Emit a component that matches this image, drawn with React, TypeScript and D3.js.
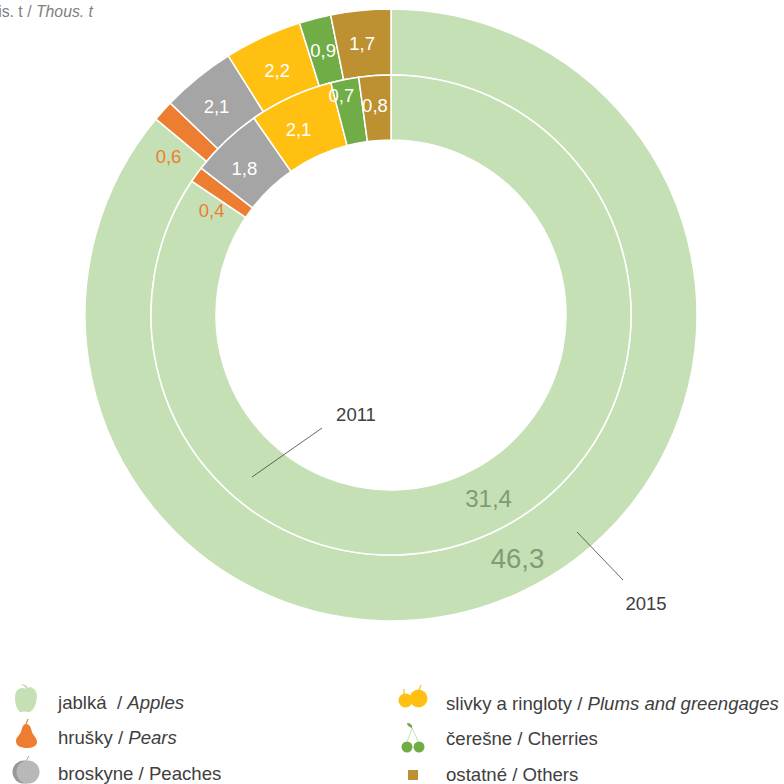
import React, { useEffect, useRef } from 'react';
import * as d3 from 'd3';

const categories = ['jablká', 'hrušky', 'broskyne', 'slivky', 'čerešne', 'ostatné'];
const values2015 = [46.3, 0.6, 2.1, 2.2, 0.9, 1.7];
const values2011 = [31.4, 0.4, 1.8, 2.1, 0.7, 0.8];
const colors = ['#C5E0B4', '#ED7D31', '#A5A5A5', '#FFC012', '#70AD47', '#BD9131'];
const labelColors = ['#7F9C72', '#ED7D31', '#fff', '#fff', '#fff', '#fff'];

const FONT = '"Liberation Sans", Arial, sans-serif';
const DEG = Math.PI / 180;

const App = () => {
  const svgRef = useRef<SVGSVGElement>(null);

  useEffect(() => {
    const svg = d3.select(svgRef.current);
    svg.selectAll('*').remove();

    const cx = 391;
    const cy = 315;

    const pie = d3.pie<number>().sort(null).value(d => d);

    // nudge: [label index, degrees along the ring, px outward]
    const drawRing = (
      values: number[], inner: number, outer: number,
      bigFont: number, smallFont: number, nudges: number[][],
    ) => {
      const arc = d3.arc<d3.PieArcDatum<number>>().innerRadius(inner).outerRadius(outer);
      const g = svg.append('g').attr('transform', `translate(${cx},${cy})`);
      const arcs = pie(values);
      arcs.forEach((a, i) => {
        g.append('path')
          .attr('d', arc(a))
          .attr('fill', colors[i])
          .attr('stroke', '#fff')
          .attr('stroke-width', 1.5);
      });
      arcs.forEach((a, i) => {
        const nudge = nudges.find(n => n[0] === i) || [i, 0, 0];
        const r = (inner + outer) / 2 + nudge[2];
        const mid = (a.startAngle + a.endAngle) / 2 + nudge[1] * DEG;
        g.append('text')
          .attr('x', r * Math.sin(mid))
          .attr('y', -r * Math.cos(mid))
          .attr('dy', '0.35em')
          .attr('text-anchor', 'middle')
          .attr('fill', labelColors[i])
          .attr('font-size', i === 0 ? bigFont : smallFont)
          .text(String(values[i]).replace('.', ','));
      });
    };

    drawRing(values2015, 240, 306, 27.5, 18.5, [[0, -2.4, 1], [1, -6.4, 0], [2, -0.75, -1], [3, -0.2, -3], [5, -0.4, 0]]);
    drawRing(values2011, 175, 240, 24, 18.5, [[1, -5.6, 0], [2, -1.4, 0], [3, -1.8, 0], [4, -1.6, 18], [5, -0.5, 3]]);

    // unit
    const unit = svg.append('text')
      .attr('x', 93)
      .attr('y', 17)
      .attr('text-anchor', 'end')
      .attr('fill', '#7F7F7F')
      .attr('font-size', 15.8);
    unit.append('tspan').text('tis. t / ');
    unit.append('tspan').attr('font-style', 'italic').text('Thous. t');

    // ring callouts
    const callout = (x1: number, y1: number, x2: number, y2: number, tx: number, ty: number, label: string) => {
      svg.append('line')
        .attr('x1', x1).attr('y1', y1).attr('x2', x2).attr('y2', y2)
        .attr('stroke', '#404040').attr('stroke-width', 0.8);
      svg.append('text')
        .attr('x', tx).attr('y', ty)
        .attr('text-anchor', 'middle')
        .attr('fill', '#404040')
        .attr('font-size', 18.5)
        .text(label);
    };
    callout(322, 428, 252, 477, 356, 421, '2011');
    callout(577, 532, 623, 580, 646, 610, '2015');

    // legend
    const icons = svg.append('g');
    const apple = icons.append('g').attr('transform', 'translate(26,698)');
    apple.append('path')
      .attr('d', 'M0,-9 C3,-11 9,-11 10.5,-5 C12,1 9,12 4,14 C2,14.5 -1,13.5 -2,13.5 C-4,14 -6,14.5 -7,13 C-11,9 -12,-1 -10,-6 C-8,-10 -3,-11 0,-9 Z')
      .attr('fill', colors[0]);
    apple.append('path').attr('d', 'M0,-9 C-1,-12 -4,-13 -5,-14 C-2,-14 1,-13 2,-10 C3,-11 5,-11 6,-10.5 C4,-9 2,-8 0,-9 Z').attr('fill', colors[0]);

    const pear = icons.append('g').attr('transform', 'translate(27,735)');
    pear.append('path')
      .attr('d', 'M-1,-11 C3,-11 4,-7 5,-3 C6,0 10,3 10,7 C10,11 5,13 0,13 C-6,13 -11,11 -11,6 C-11,2 -7,0 -6,-3 C-5,-7 -4,-11 -1,-11 Z')
      .attr('fill', colors[1]);
    pear.append('path').attr('d', 'M-1,-11 L1,-16').attr('stroke', colors[1]).attr('stroke-width', 1.2);

    const peach = icons.append('g').attr('transform', 'translate(26,772)');
    peach.append('circle').attr('cx', -2).attr('r', 11.5).attr('fill', '#999');
    peach.append('circle').attr('cx', 2).attr('r', 11.5).attr('fill', '#B8B8B8');
    peach.append('path').attr('d', 'M0,-11 L3,-16').attr('stroke', '#A5A5A5').attr('stroke-width', 1);

    const plums = icons.append('g').attr('transform', 'translate(413,699)');
    plums.append('circle').attr('cx', -7.5).attr('cy', 1.5).attr('r', 7).attr('fill', colors[3]);
    plums.append('circle').attr('cx', 5.5).attr('cy', -0.5).attr('r', 9).attr('fill', colors[3]);
    plums.append('path').attr('d', 'M-9,-5 L-9,-10 M6,-9 L8,-14').attr('stroke', colors[3]).attr('stroke-width', 1.2);

    const cherries = icons.append('g').attr('transform', 'translate(413,737)');
    cherries.append('circle').attr('cx', -6).attr('cy', 10).attr('r', 5.5).attr('fill', colors[4]);
    cherries.append('circle').attr('cx', 6).attr('cy', 10).attr('r', 5.5).attr('fill', colors[4]);
    cherries.append('path')
      .attr('d', 'M-6,5 C-4,-1 -2,-5 -1,-9 C1,-4 4,0 5,5')
      .attr('fill', 'none').attr('stroke', colors[0]).attr('stroke-width', 1);
    cherries.append('path').attr('d', 'M-1,-9 C-5,-10 -6,-13 -6,-14 C-3,-14 0,-12 -1,-9 Z').attr('fill', colors[4]);

    icons.append('rect').attr('x', 408).attr('y', 770).attr('width', 10).attr('height', 10).attr('fill', colors[5]);

    const legendText = (x: number, y: number, sk: string, en: string, italic: boolean) => {
      const t = svg.append('text').attr('x', x).attr('y', y).attr('fill', '#404040').attr('font-size', 18.6);
      t.append('tspan').text(sk);
      t.append('tspan').attr('font-style', italic ? 'italic' : 'normal').text(en);
    };
    legendText(58, 709, `${categories[0]}\u00a0 / `, 'Apples', true);
    legendText(58, 744, `${categories[1]} / `, 'Pears', true);
    legendText(58, 780, `${categories[2]} / `, 'Peaches', false);
    legendText(446, 710, `${categories[3]} a ringloty / `, 'Plums and greengages', true);
    legendText(446, 745, `${categories[4]} / `, 'Cherries', false);
    legendText(446, 781, `${categories[5]} / `, 'Others', false);
  }, []);

  return (
    <svg
      ref={svgRef}
      width={784}
      height={784}
      style={{ position: 'absolute', left: 0, top: 0, fontFamily: FONT, background: '#fff' }}
    />
  );
};

export default App;
